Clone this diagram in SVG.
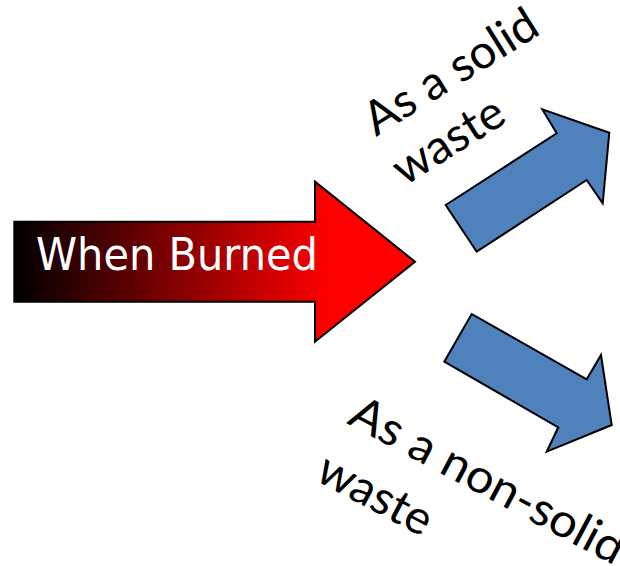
<svg xmlns="http://www.w3.org/2000/svg" width="620" height="566" viewBox="0 0 620 566">
<style>
.arrow{stroke:#000;stroke-width:2;stroke-linejoin:miter}
.blue{fill:#4F81BD}
.lbl{font-family:Lato,"Liberation Sans",sans-serif;font-size:47px;fill:#000}
.main{font-family:"DejaVu Sans","Liberation Sans",sans-serif;font-size:44px;fill:#fff}
</style>
<defs>
<linearGradient id="burn" gradientUnits="userSpaceOnUse" x1="14" y1="0" x2="330" y2="0">
<stop offset="0" stop-color="#000"/>
<stop offset="1" stop-color="#f00"/>
</linearGradient>
</defs>
<rect width="620" height="566" fill="#fff"/>
<g id="connectors">
<polygon id="arrow-solid" class="arrow blue" points="445.7,205 556.7,133.3 542.3,109.3 609.3,132.7 602.7,203.3 586.7,180 476.7,251.7"/>
<polygon id="arrow-nonsolid" class="arrow blue" points="471.7,314 586.7,379.3 601,355 611.7,425 546.7,451.7 558.3,427.3 444.3,361.7"/>
</g>
<g id="node-burned">
<polygon class="arrow" fill="url(#burn)" points="14.3,221.7 315,221.7 315,181.7 415,261.7 315,341.7 315,301.7 14.3,301.7"/>
<text class="main" x="36" y="270" textLength="282" lengthAdjust="spacingAndGlyphs">When Burned</text>
</g>
<g id="node-solid">
<text class="lbl" transform="translate(376,137) rotate(-32)"><tspan x="0" y="0" textLength="196" lengthAdjust="spacingAndGlyphs">As a solid</tspan><tspan x="-2" y="57" textLength="123" lengthAdjust="spacingAndGlyphs">waste</tspan></text>
</g>
<g id="node-nonsolid">
<text class="lbl" transform="translate(346,423) rotate(28)"><tspan x="0" y="0" textLength="304" lengthAdjust="spacingAndGlyphs">As a non-solid</tspan><tspan x="-2" y="65" textLength="123" lengthAdjust="spacingAndGlyphs">waste</tspan></text>
</g>
</svg>
